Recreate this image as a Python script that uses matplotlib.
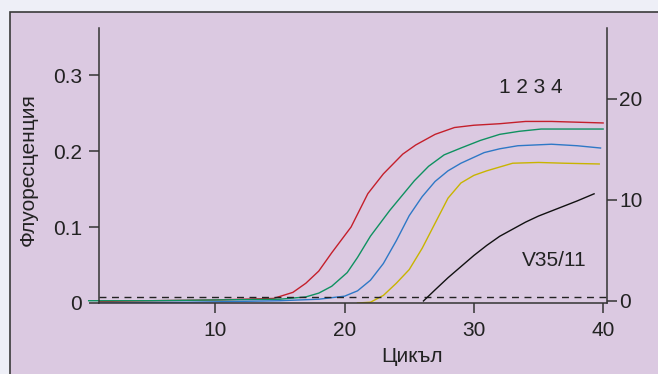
import matplotlib
matplotlib.use("Agg")
import matplotlib.pyplot as plt
from matplotlib.patches import Rectangle

plt.rcParams['font.family'] = ['Liberation Sans', 'DejaVu Sans']

# кривые на флуоресценция (лява ос)
red_x = [1, 5, 10, 14.5, 16, 17, 18, 19, 20.5, 21.8, 23, 24.5, 25.5, 27, 28.5, 30, 32, 34, 36, 38, 40]
red_y = [0.002, 0.003, 0.004, 0.006, 0.014, 0.026, 0.042, 0.066, 0.100, 0.144, 0.170, 0.196, 0.208,
         0.222, 0.231, 0.234, 0.236, 0.239, 0.239, 0.238, 0.237]

green_x = [0.2, 5, 10, 15, 17, 18, 19, 20.2, 21, 22, 23.5, 25.4, 26.5, 27.7, 29, 30.5, 32, 33.5, 35.2, 40]
green_y = [0.003, 0.003, 0.004, 0.005, 0.008, 0.013, 0.022, 0.040, 0.060, 0.088, 0.122, 0.161, 0.180,
           0.195, 0.204, 0.214, 0.222, 0.226, 0.229, 0.229]

blue_x = [1, 8, 15, 18, 20, 21, 22, 23, 24, 25, 26, 27, 28, 29, 30.8, 32, 33.4, 36, 38, 39.8]
blue_y = [0.000, 0.001, 0.003, 0.005, 0.009, 0.016, 0.030, 0.052, 0.082, 0.115, 0.140, 0.160, 0.174,
          0.184, 0.198, 0.203, 0.207, 0.209, 0.207, 0.204]

yellow_x = [21, 22, 23, 24, 25, 26, 27, 28, 29, 30, 31, 32, 33, 35, 37, 39.7]
yellow_y = [0.0, 0.001, 0.010, 0.026, 0.044, 0.072, 0.105, 0.138, 0.158, 0.168, 0.174, 0.179, 0.184,
            0.185, 0.184, 0.183]

# V35/11 (дясна ос)
black_x = [26.1, 27, 28, 29, 30, 31, 32, 33, 34, 35, 36, 37, 38, 39.3]
black_y = [0.0, 1.1, 2.3, 3.4, 4.5, 5.5, 6.4, 7.1, 7.8, 8.4, 8.9, 9.4, 9.9, 10.6]

threshold = 0.008

fig = plt.figure(figsize=(6.58, 3.74), dpi=100, facecolor='#eeeff7')
panel = Rectangle((10 / 658, -0.05), 1.0, 1 - 12 / 374 + 0.05, transform=fig.transFigure,
                  facecolor='#dbc9e1', edgecolor='#3a3a3a', linewidth=1.2, zorder=-10)
fig.patches.append(panel)

ax = fig.add_axes([99 / 658, 71 / 374, 508 / 658, 275 / 374])
ax.set_facecolor('none')
spine_c = '#333333'

ax.plot(red_x, red_y, color='#c41f2b', lw=1.0)
ax.plot(green_x, green_y, color='#0f9160', lw=1.0, clip_on=False)
ax.plot(blue_x, blue_y, color='#2e78c6', lw=1.0)
ax.plot(yellow_x, yellow_y, color='#c8b400', lw=1.0)
ax.axhline(threshold, color='#222222', lw=1.0, dashes=(5, 4))

ax.set_xlim(1, 40.3)
ax.set_ylim(0, 0.362)
ax.set_xticks([10, 20, 30, 40])
ax.set_yticks([0, 0.1, 0.2, 0.3])
ax.set_yticklabels(['0', '0.1', '0.2', '0.3'])
ax.tick_params(length=7, width=1.1, color=spine_c, labelsize=15, labelcolor='#222222')
ax.tick_params(axis='y', pad=5)
ax.tick_params(axis='x', pad=6)
for s in ['top', 'right']:
    ax.spines[s].set_visible(False)
for s in ['left', 'bottom']:
    ax.spines[s].set_color(spine_c)
    ax.spines[s].set_linewidth(1.1)

ax2 = ax.twinx()
ax2.plot(black_x, black_y, color='#111111', lw=1.0)
ax2.set_ylim(-0.2, 27)
ax2.set_yticks([0, 10, 20])
ax2.tick_params(length=7, width=1.1, color=spine_c, labelsize=15, labelcolor='#222222', pad=2)
for s in ['top', 'left', 'bottom']:
    ax2.spines[s].set_visible(False)
ax2.spines['right'].set_color(spine_c)
ax2.spines['right'].set_linewidth(1.1)

ax.text(0.851, 0.785, '1 2 3 4', transform=ax.transAxes, ha='center', va='center',
        fontsize=15, color='#222222')
ax.text(0.897, 0.156, 'V35/11', transform=ax.transAxes, ha='center', va='center',
        fontsize=15, color='#222222')

fig.text(28 / 658, 1 - 170 / 374, 'Флуоресценция', rotation=90, ha='center', va='center',
         fontsize=15, color='#222222')
fig.text(412 / 658, 1 - 357 / 374, 'Цикъл', ha='center', va='center', fontsize=15, color='#222222')

fig.savefig('out.png', dpi=100, facecolor=fig.get_facecolor())
